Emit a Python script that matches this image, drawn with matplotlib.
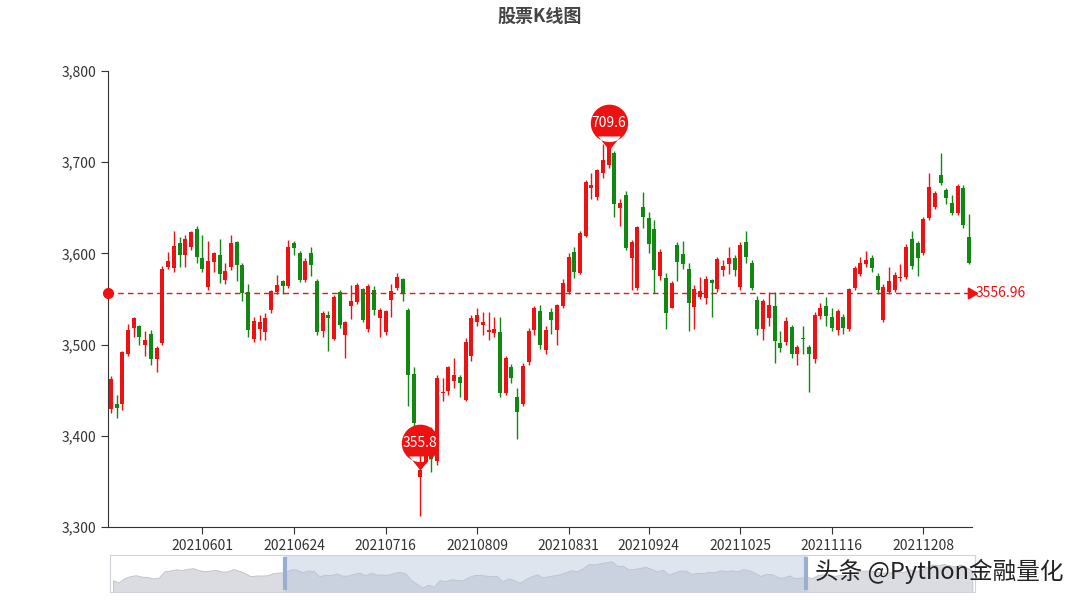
import matplotlib
matplotlib.use("Agg")
import matplotlib.pyplot as plt
from matplotlib.path import Path
from matplotlib.markers import MarkerStyle
import numpy as np

plt.rcParams['font.family'] = ['Noto Sans CJK SC', 'DejaVu Sans']

opens = [3430,3434,3435,3490,3519,3520,3500,3511,3485,3502,3585,3584,3611,3599,3607,3626,3595,3563,3591,3598,
         3571,3585,3612,3587,3557,3507,3518,3514,3538,3558,3569,3565,3611,3600,3571,3600,3569,3515,3532,3507,
         3557,3511,3543,3547,3560,3518,3559,3529,3514,3549,3562,3571,3538,3467,3355,3372,3395,3373,3447,3450,
         3460,3464,3440,3488,3525,3522,3514,3513,3513,3447,3475,3442,3435,3481,3516,3536,3494,3535,3516,3543,
         3558,3601,3579,3620,3672,3662,3689,3697,3710,3650,3664,3595,3562,3651,3638,3626,3576,3573,3541,3609,
         3599,3582,3542,3553,3551,3570,3561,3582,3589,3594,3563,3612,3589,3549,3518,3529,3542,3501,3503,3519,
         3490,3507,3497,3485,3532,3542,3530,3516,3530,3518,3562,3578,3589,3595,3575,3527,3558,3560,3573,3574,
         3615,3611,3601,3639,3651,3686,3669,3655,3645,3671,3618]
closes = [3462,3431,3491,3516,3529,3509,3505,3485,3496,3582,3591,3608,3599,3615,3623,3596,3583,3591,3600,3578,
          3580,3611,3588,3557,3516,3525,3524,3529,3558,3565,3565,3607,3606,3571,3591,3588,3514,3534,3529,3552,
          3522,3524,3547,3565,3527,3564,3538,3538,3536,3558,3574,3557,3467,3414,3362,3400,3375,3463,3448,3475,
          3466,3458,3502,3529,3532,3524,3516,3517,3447,3485,3464,3426,3476,3514,3540,3500,3516,3527,3543,3567,
          3596,3580,3622,3678,3675,3691,3702,3716,3655,3655,3606,3612,3628,3640,3611,3582,3601,3535,3567,3591,
          3589,3546,3561,3558,3572,3568,3593,3586,3594,3582,3609,3596,3562,3518,3547,3543,3504,3497,3526,3490,
          3497,3506,3490,3532,3540,3532,3519,3536,3519,3560,3584,3589,3592,3584,3560,3563,3569,3576,3574,3607,
          3587,3595,3637,3672,3666,3678,3661,3645,3673,3631,3590]
highs = [3466,3445,3493,3523,3530,3522,3515,3516,3498,3586,3602,3625,3618,3620,3625,3630,3620,3614,3602,3616,
         3590,3620,3614,3590,3566,3530,3532,3535,3560,3576,3571,3615,3614,3603,3595,3607,3572,3537,3537,3554,
         3560,3526,3565,3568,3562,3566,3564,3540,3538,3566,3578,3573,3540,3475,3380,3408,3410,3467,3463,3477,
         3485,3467,3507,3532,3540,3536,3536,3530,3530,3487,3479,3452,3480,3518,3542,3543,3520,3540,3545,3572,
         3600,3607,3624,3681,3688,3693,3720,3722,3712,3660,3668,3615,3630,3667,3645,3637,3605,3578,3570,3613,
         3614,3590,3565,3574,3575,3572,3596,3593,3607,3598,3613,3624,3593,3553,3550,3558,3558,3515,3530,3522,
         3500,3520,3500,3536,3546,3552,3540,3539,3534,3562,3586,3596,3603,3598,3578,3566,3585,3580,3588,3610,
         3625,3614,3640,3688,3668,3710,3672,3664,3676,3675,3643]
lows = [3425,3420,3428,3488,3508,3500,3487,3478,3470,3500,3583,3580,3585,3585,3604,3590,3580,3560,3580,3568,
        3566,3582,3570,3548,3508,3503,3505,3505,3535,3555,3556,3562,3598,3569,3569,3575,3510,3508,3493,3505,
        3518,3485,3528,3545,3525,3514,3532,3508,3510,3530,3560,3548,3433,3390,3312,3370,3360,3368,3438,3445,
        3452,3442,3438,3482,3520,3510,3505,3508,3442,3445,3458,3396,3433,3478,3510,3495,3490,3512,3500,3540,
        3555,3573,3577,3618,3660,3658,3683,3694,3640,3630,3604,3560,3560,3628,3600,3557,3571,3517,3540,3570,
        3583,3515,3517,3550,3545,3530,3558,3575,3577,3575,3560,3590,3560,3510,3505,3520,3480,3492,3500,3485,
        3478,3490,3448,3480,3528,3520,3515,3510,3512,3515,3560,3575,3585,3580,3555,3525,3555,3558,3570,3572,
        3583,3575,3598,3637,3649,3675,3654,3642,3642,3628,3588]

tick_pos = [16, 32, 48, 64, 80, 94, 110, 126, 142]
tick_labels = ['20210601', '20210624', '20210716', '20210809', '20210831',
               '20210924', '20211025', '20211116', '20211208']
avg_value = 3556.96
max_label, min_label = '709.6', '355.8'

RED = '#ee1111'
GREEN = '#118811'

fig = plt.figure(figsize=(10.8, 6), dpi=100)
ax = fig.add_axes([0.1, 0.1217, 0.8, 0.76])

o = np.array(opens); c = np.array(closes); h = np.array(highs); l = np.array(lows)
x = np.arange(len(o))
up = c >= o
cols = np.where(up, RED, GREEN)
ax.vlines(x, l, h, colors=cols, linewidth=1, zorder=2)
ax.bar(x, np.abs(c - o) + 0.8, bottom=np.minimum(o, c) - 0.4, width=0.7, color=cols, zorder=3)

# average line
ax.axhline(avg_value, color=RED, linestyle=(0, (4, 3)), linewidth=1, zorder=4)
ax.plot([-0.5], [avg_value], 'o', color=RED, markersize=7, clip_on=False, zorder=5)
ax.plot([150.3], [avg_value], marker=(3, 0, -90), color=RED, markersize=9, clip_on=False, zorder=5)
ax.text(151.2, avg_value, f'{avg_value:.2f}', color=RED, fontsize=10, va='center', ha='left')

# pin markers
circ = Path.circle((0, 1.45), 1.0)
tri = Path([(0, 0), (-0.6, 0.75), (0.6, 0.75), (0, 0)],
           [Path.MOVETO, Path.LINETO, Path.LINETO, Path.CLOSEPOLY])
pin = MarkerStyle(Path.make_compound_path(circ, tri))
imax = int(np.argmax(h)); imin = int(np.argmin(l))
for xi, yi, lab in [(imax, h[imax] - 9, max_label), (imin, c[imin], min_label)]:
    ax.plot([xi], [yi], marker=pin, markersize=66, color=RED, markeredgewidth=0, zorder=6)
    ax.annotate(lab, (xi, yi), xytext=(0, 20), textcoords='offset points',
                ha='center', va='center', color='white', fontsize=10, zorder=7)

ax.set_xlim(-0.5, 150.5)
ax.set_ylim(3300, 3800)
ax.set_yticks([3300, 3400, 3500, 3600, 3700, 3800])
ax.set_yticklabels(['3,300', '3,400', '3,500', '3,600', '3,700', '3,800'])
ax.set_xticks(tick_pos)
ax.set_xticklabels(tick_labels)
ax.tick_params(labelsize=10, colors='#333333', length=5)
for s in ['top', 'right']:
    ax.spines[s].set_visible(False)
ax.spines['left'].set_color('#333333')
ax.spines['bottom'].set_color('#333333')

fig.text(0.5, 0.972, '股票K线图', ha='center', va='center', fontsize=13, fontweight='bold', color='#444444')

# data zoom slider
sl = fig.add_axes([0.102, 0.013, 0.801, 0.062])
sl.fill_between(x, c, 3300, color='#d6d9de', alpha=0.9, linewidth=0.6, edgecolor='#b8bcc4')
sl.set_xlim(-0.5, 150.5); sl.set_ylim(3300, 3800)
sl.axvspan(30, 121, color='#b9c7dd', alpha=0.45)
sl.plot([30, 30], [3350, 3750], color='#9aaed0', linewidth=3)
sl.plot([121, 121], [3350, 3750], color='#9aaed0', linewidth=3)
sl.set_xticks([]); sl.set_yticks([])
for s in sl.spines.values():
    s.set_color('#d0d4da')

fig.text(0.985, 0.048, '头条 @Python金融量化', ha='right', va='center', fontsize=17, color='#222222')

fig.savefig('out.png', dpi=100)
